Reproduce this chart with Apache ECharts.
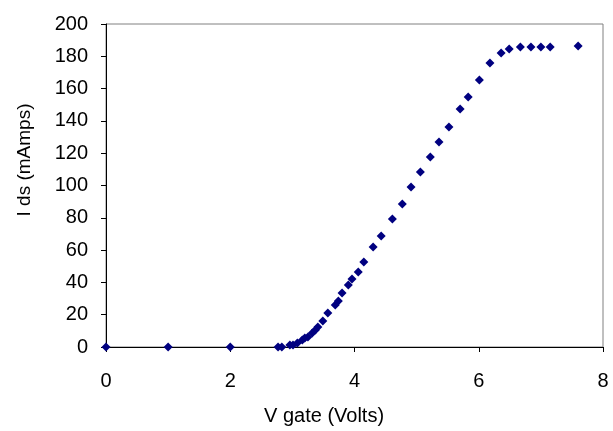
<!DOCTYPE html>
<html>
<head>
<meta charset="utf-8">
<script src="https://cdn.jsdelivr.net/npm/echarts@6/dist/echarts.min.js"></script>
<style>
    html, body { margin: 0; padding: 0; background: #fff; }
    #myChart { width: 613px; height: 431px; }
</style>
</head>
<body>
<div id="myChart"></div>
<script>
// gate voltage (V) and drain current (mA)
var vGate = [0, 1, 2, 2.77, 2.83, 2.96, 3.01, 3.08, 3.16, 3.20, 3.25, 3.32, 3.37, 3.41, 3.49, 3.57,
    3.69, 3.74, 3.80, 3.90, 3.96, 4.06, 4.15, 4.30, 4.43, 4.61, 4.77, 4.91, 5.06, 5.22, 5.36, 5.52,
    5.70, 5.83, 6.01, 6.18, 6.36, 6.49, 6.67, 6.84, 7.00, 7.15, 7.60];
var iDs = [0, 0, 0, 0, 0, 1.2, 1.2, 2.5, 4.3, 5.6, 6.2, 8.7, 10.5, 12.4, 16.1, 21.1,
    26.0, 28.5, 33.4, 38.4, 42.1, 46.4, 52.6, 61.9, 68.7, 79.3, 88.5, 99.1, 108.4, 117.6, 126.9, 136.2,
    147.4, 154.8, 165.3, 175.9, 182.0, 184.5, 185.8, 185.8, 185.8, 185.8, 186.4];
var xTicks = [0, 2, 4, 6, 8];
var yTicks = [0, 20, 40, 60, 80, 100, 120, 140, 160, 180, 200];
var xTitle = 'V gate (Volts)';
var yTitle = 'I ds (mAmps)';

var points = [];
for (var i = 0; i < vGate.length; i++) {
    points.push([vGate[i], iDs[i]]);
}

var font = 'Liberation Sans, Arial, sans-serif';

var option = {
    animation: false,
    backgroundColor: '#fff',
    grid: { left: 106, right: 10, top: 24, bottom: 84, show: true, borderColor: '#808080', borderWidth: 1 },
    xAxis: {
        type: 'value',
        min: xTicks[0], max: xTicks[xTicks.length - 1], interval: 2,
        axisLine: { show: true, lineStyle: { color: '#000', width: 1 } },
        axisTick: { show: true, length: 5, lineStyle: { color: '#000' } },
        splitLine: { show: false },
        axisLabel: { margin: 24, color: '#000', fontSize: 20, fontFamily: font }
    },
    yAxis: {
        type: 'value',
        min: yTicks[0], max: yTicks[yTicks.length - 1], interval: 20,
        axisLine: { show: true, lineStyle: { color: '#000', width: 1 } },
        axisTick: { show: true, length: 5, lineStyle: { color: '#000' } },
        splitLine: { show: false },
        axisLabel: { margin: 18, color: '#000', fontSize: 20, fontFamily: font }
    },
    graphic: [
        { type: 'text', left: 264, top: 406, style: { text: xTitle, fontSize: 20, fontFamily: font, fill: '#000' } },
        { type: 'text', x: 34, y: 160, rotation: Math.PI / 2,
          style: { text: yTitle, fontSize: 19, fontFamily: font, fill: '#000', align: 'center', verticalAlign: 'bottom' } }
    ],
    series: [{
        type: 'scatter',
        symbol: 'diamond',
        symbolSize: 9,
        itemStyle: { color: '#000080', opacity: 1 },
        data: points
    }]
};

var myChart = echarts.init(document.getElementById('myChart'));
myChart.setOption(option);
</script>
</body>
</html>
